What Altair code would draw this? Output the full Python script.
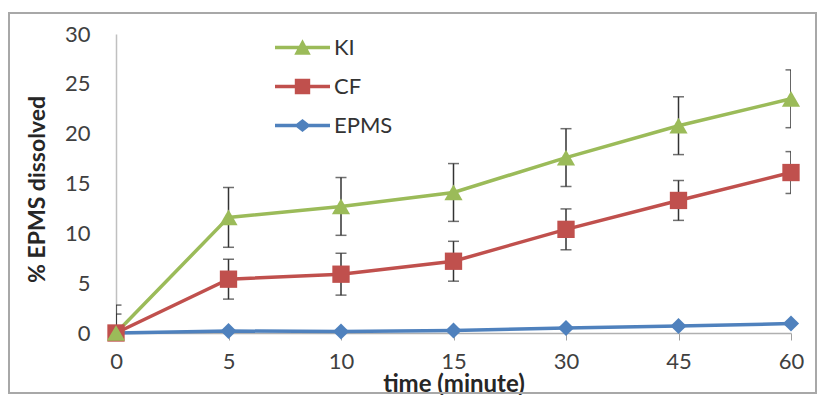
import altair as alt
import pandas as pd

# ---- data ----
time_labels = ["0", "5", "10", "15", "30", "45", "60"]
series_names = ["KI", "CF", "EPMS"]
series_colors = ["#9BBB59", "#C0504D", "#4F81BD"]

ki = [0.0, 11.6, 12.7, 14.1, 17.6, 20.8, 23.5]
ki_sd = [2.8, 3.0, 2.9, 2.9, 2.9, 2.9, 2.9]
cf = [0.0, 5.4, 5.9, 7.2, 10.4, 13.3, 16.1]
cf_sd = [1.9, 2.0, 2.1, 2.0, 2.05, 2.0, 2.1]
epms = [0.0, 0.2, 0.15, 0.25, 0.5, 0.7, 0.95]
epms_sd = [0, 0, 0, 0, 0, 0, 0]

y_ticks = [0, 5, 10, 15, 20, 25, 30]

FONT = "Lato"

rows = []
for name, vals, sds in [("EPMS", epms, epms_sd), ("CF", cf, cf_sd), ("KI", ki, ki_sd)]:
    for t, v, s in zip(time_labels, vals, sds):
        rows.append({"time": t, "series": name, "value": v, "lo": v - s, "hi": v + s})
df = pd.DataFrame(rows)

base = alt.Chart(df)

x_enc = alt.X(
    "time:O",
    sort=time_labels,
    scale=alt.Scale(type="point", padding=0),
    axis=alt.Axis(
        title="time (minute)",
        labelAngle=0,
        labelFont=FONT,
        labelFontSize=22,
        labelColor="#404040",
        labelPadding=11,
        titleFont=FONT,
        titleFontSize=24,
        titleFontWeight="bold",
        titleColor="#262626",
        titleBaseline="alphabetic",
        titleY=58,
        tickSize=7,
        tickColor="#A0A0A0",
        domainColor="#B0B0B0",
        domainWidth=1.5,
        grid=False,
    ),
)

y_scale = alt.Scale(domain=[0, 30], nice=False)
y_axis = alt.Axis(
    values=y_ticks,
    title="% EPMS dissolved",
    labelFont=FONT,
    labelFontSize=22,
    labelColor="#404040",
    labelPadding=26,
    ticks=False,
    titleFont=FONT,
    titleFontSize=23,
    titleFontWeight="bold",
    titleColor="#262626",
    titleX=-79,
    titleY=155,
    titleBaseline="middle",
    domainColor="#C0C0C0",
    domainWidth=1.5,
    grid=False,
)

color_scale = alt.Scale(domain=series_names, range=series_colors)

border = alt.Chart(pd.DataFrame({"k": [0]})).mark_rect(
    fillOpacity=0, stroke="#A8A8A8", strokeWidth=2
).encode(
    x=alt.value(-107), x2=alt.value(700), y=alt.value(-21), y2=alt.value(359)
)

err = base.transform_filter("datum.hi > datum.lo").mark_rule(
    color="#333333", strokeWidth=1.5, clip=True
).encode(x=x_enc, y=alt.Y("lo:Q", scale=y_scale, axis=y_axis), y2="hi:Q")

cap_lo = base.transform_filter("datum.hi > datum.lo").mark_tick(
    color="#333333", thickness=1.5, size=11, clip=True
).encode(x=x_enc, y=alt.Y("lo:Q", scale=y_scale, axis=y_axis))

cap_hi = base.transform_filter("datum.hi > datum.lo").mark_tick(
    color="#333333", thickness=1.5, size=11, clip=True
).encode(x=x_enc, y=alt.Y("hi:Q", scale=y_scale, axis=y_axis))

lines = base.mark_line(strokeWidth=3.5).encode(
    x=x_enc,
    y=alt.Y("value:Q", scale=y_scale, axis=y_axis),
    color=alt.Color("series:N", scale=color_scale, legend=None),
)


def pts(name, shape, size):
    return base.transform_filter(alt.datum.series == name).mark_point(
        filled=True, shape=shape, size=size, opacity=1
    ).encode(
        x=x_enc,
        y=alt.Y("value:Q", scale=y_scale, axis=y_axis),
        color=alt.Color("series:N", scale=color_scale, legend=None),
    )


p_epms = pts("EPMS", "diamond", 260)
p_cf = pts("CF", "square", 300)
p_ki = pts("KI", "triangle-up", 330)

bar = "M-1,-0.06L1,-0.06L1,0.06L-1,0.06Z"
legend_shapes = [
    bar + "M-0.3,0.26L0,-0.3L0.3,0.26Z",
    bar + "M-0.28,-0.28L0.28,-0.28L0.28,0.28L-0.28,0.28Z",
    bar + "M-0.3,0L0,-0.24L0.3,0L0,0.24Z",
]

legend_layer = base.transform_filter("datum.value < -100").mark_point(
    filled=True, size=3025, opacity=1
).encode(
    x=x_enc,
    y=alt.Y("value:Q", scale=y_scale, axis=y_axis),
    color=alt.Color(
        "series:N",
        scale=color_scale,
        title=None,
        legend=alt.Legend(
            orient="none",
            legendX=159,
            legendY=-14,
            padding=0,
            labelFont=FONT,
            labelFontSize=22,
            labelColor="#333333",
            labelOffset=4,
            symbolSize=3025,
            symbolStrokeWidth=0,
            rowPadding=-18,
        ),
    ),
    shape=alt.Shape(
        "series:N",
        scale=alt.Scale(domain=series_names, range=legend_shapes),
        title=None,
    ),
)

chart = alt.layer(
    border, err, cap_lo, cap_hi, lines, p_epms, p_cf, p_ki, legend_layer
).resolve_scale(
    color="independent", shape="independent"
).resolve_legend(
    color="independent", shape="independent"
).properties(
    width=675,
    height=299,
    padding={"left": 108, "top": 26, "right": 28, "bottom": 62},
    autosize=alt.AutoSizeParams(type="none"),
    background="white",
).configure_view(stroke="transparent")

chart.save("out.html", embed_options={"renderer": "svg", "actions": False})
